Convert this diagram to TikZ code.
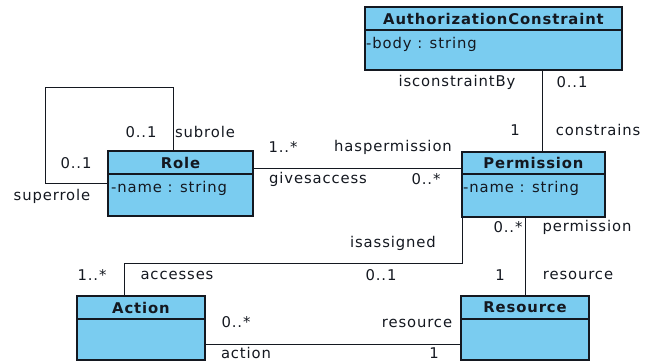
\documentclass[tikz,border=0pt]{standalone}
\usepackage{fontspec}
\setmainfont{DejaVu Sans}[LetterSpace=6]
\usetikzlibrary{calc}
\definecolor{clsfill}{RGB}{122,204,240}
\definecolor{ink}{RGB}{20,24,32}
\begin{document}
\begin{tikzpicture}[x=1pt,y=-1pt,
  cls/.style={draw=ink, fill=clsfill, line width=1.2pt, anchor=north west, inner sep=0pt, outer sep=0pt},
  divider/.style={draw=ink, line width=1.8pt},
  title/.style={font=\fontsize{14.8}{16}\selectfont\bfseries, text=ink, inner sep=0pt},
  attr/.style={font=\fontsize{14.8}{16}\selectfont, text=ink, inner sep=0pt, anchor=west},
  lbl/.style={font=\fontsize{14.8}{16}\selectfont, text=ink, inner sep=0pt},
  conn/.style={draw=ink, line width=1pt}
]
\useasboundingbox (0,0) rectangle (645,362);

% classes
\node[cls, minimum width=257pt, minimum height=63pt] (AC) at (365,7) {};
\draw[divider] ([yshift=-23pt]AC.north west) -- ([yshift=-23pt]AC.north east);
\node[title] (ACt) at ([yshift=-11.5pt]AC.north) {AuthorizationConstraint};
\node[attr] (ACa) at ([xshift=1pt,yshift=-37pt]AC.north west) {-body : string};

\node[cls, minimum width=145pt, minimum height=65pt] (Role) at (108,151) {};
\draw[divider] ([yshift=-23pt]Role.north west) -- ([yshift=-23pt]Role.north east);
\node[title] (Rolet) at ([yshift=-11.5pt]Role.north) {Role};
\node[attr] (Rolea) at ([xshift=3pt,yshift=-37pt]Role.north west) {-name : string};

\node[cls, minimum width=143pt, minimum height=65pt] (Perm) at (462,152) {};
\draw[divider] ([yshift=-22pt]Perm.north west) -- ([yshift=-22pt]Perm.north east);
\node[title] (Permt) at ([yshift=-11pt]Perm.north) {Permission};
\node[attr] (Perma) at ([xshift=1pt,yshift=-36pt]Perm.north west) {-name : string};

\node[cls, minimum width=128pt, minimum height=64pt] (Action) at (77,296) {};
\draw[divider] ([yshift=-23pt]Action.north west) -- ([yshift=-23pt]Action.north east);
\node[title] (Actiont) at ([yshift=-11.5pt]Action.north) {Action};

\node[cls, minimum width=128pt, minimum height=64pt] (Res) at (461,296) {};
\draw[divider] ([yshift=-23pt]Res.north west) -- ([yshift=-23pt]Res.north east);
\node[title] (Rest) at ([yshift=-11.5pt]Res.north) {Resource};

% connection points
\coordinate (roleR) at ([yshift=-17pt]Role.north east);
\coordinate (acB) at ([xshift=177pt]AC.south west);
\coordinate (actR) at ([yshift=-48pt]Action.north east);
\coordinate (actT) at ([xshift=-17pt]Action.north);
\coordinate (roleT) at ([xshift=65pt]Role.north west);
\coordinate (loopA) at (173,87);
\coordinate (loopB) at (45,183);
\coordinate (isaY) at (300,263);

% connectors
\draw[conn] (roleT) -- (loopA) -| (loopB) -- (Role.west |- loopB);
\draw[conn] (roleR) -- (Perm.west |- roleR);
\draw[conn] (acB) -- (Perm.north -| acB);
\draw[conn] (Perm.south -| Res.north) -- (Res.north);
\draw[conn] (Perm.south west) -- (Perm.south west |- isaY) -| (actT);
\draw[conn] (actR) -- (Res.west |- actR);

% labels
\node[lbl] (l1) at (457,82) {isconstraintBy};
\node[lbl] (l2) at (572,82) {0..1};
\node[lbl] (l3) at (515,130) {1};
\node[lbl] (l4) at (598,130) {constrains};
\node[lbl] (l5) at (283,147) {1..*};
\node[lbl] (l6) at (393,147) {haspermission};
\node[lbl] (l7) at (318,179) {givesaccess};
\node[lbl] (l8) at (426,179) {0..*};
\node[lbl] (l9) at (508,227) {0..*};
\node[lbl] (l10) at (587,227) {permission};
\node[lbl] (l11) at (393,243) {isassigned};
\node[lbl] (l12) at (381,275) {0..1};
\node[lbl] (l13) at (500,275) {1};
\node[lbl] (l14) at (578,275) {resource};
\node[lbl] (l15) at (417,323) {resource};
\node[lbl] (l16) at (434,353) {1};
\node[lbl] (l17) at (92,275) {1..*};
\node[lbl] (l18) at (177,275) {accesses};
\node[lbl] (l19) at (236,322) {0..*};
\node[lbl] (l20) at (246,353) {action};
\node[lbl] (l21) at (141,132) {0..1};
\node[lbl] (l22) at (205,132) {subrole};
\node[lbl] (l23) at (76,163) {0..1};
\node[lbl] (l24) at (52,196) {superrole};
\end{tikzpicture}
\end{document}
